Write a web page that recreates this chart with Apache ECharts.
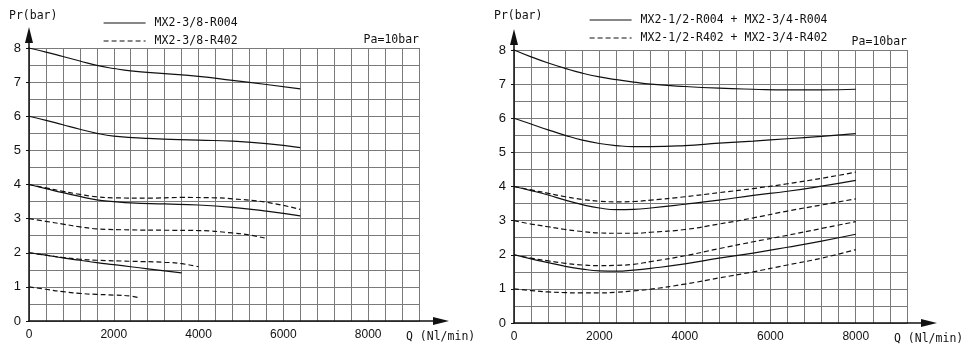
<!DOCTYPE html>
<html><head><meta charset="utf-8">
<script src="https://cdn.jsdelivr.net/npm/echarts@6/dist/echarts.min.js"></script>
<style>html,body{margin:0;padding:0;background:#fff}#c{width:963px;height:358px}</style>
</head><body><div id="c"></div>
<script>
// ---- data ----
const leftNames = ['MX2-3/8-R004', 'MX2-3/8-R402'];
const rightNames = ['MX2-1/2-R004 + MX2-3/4-R004', 'MX2-1/2-R402 + MX2-3/4-R402'];
const xLabelStep = 2000;
const yLabelStep = 1;

// Left chart, solid (R004)
const L_solid8 = [[0,8],[400,7.88],[800,7.75],[1200,7.62],[1600,7.49],[2000,7.4],[2400,7.33],[3200,7.25],[4000,7.17],[4800,7.05],[5600,6.93],[6400,6.8]];
const L_solid6 = [[0,6],[400,5.88],[800,5.75],[1200,5.62],[1600,5.5],[2000,5.42],[2800,5.35],[4000,5.3],[4800,5.27],[5600,5.2],[6400,5.08]];
const L_solid4 = [[0,4],[400,3.88],[800,3.76],[1200,3.65],[1600,3.55],[2000,3.5],[2400,3.46],[3200,3.43],[4000,3.4],[4800,3.33],[5600,3.22],[6400,3.08]];
const L_solid2 = [[0,2],[400,1.93],[800,1.85],[1200,1.78],[1600,1.71],[2000,1.65],[2400,1.59],[2800,1.53],[3200,1.47],[3600,1.41]];
// Left chart, dashed (R402)
const L_dash4 = [[0,4],[400,3.9],[800,3.8],[1200,3.71],[1600,3.64],[2000,3.61],[2800,3.6],[3600,3.62],[4400,3.61],[4800,3.58],[5600,3.48],[6400,3.27]];
const L_dash3 = [[0,3],[400,2.92],[800,2.84],[1200,2.76],[1600,2.7],[2400,2.67],[3200,2.66],[4000,2.65],[4800,2.58],[5200,2.52],[5600,2.42]];
const L_dash2 = [[0,2],[400,1.93],[800,1.86],[1200,1.81],[1600,1.78],[2400,1.75],[3200,1.72],[3600,1.68],[4000,1.59]];
const L_dash1 = [[0,1],[400,0.93],[800,0.86],[1200,0.81],[1600,0.78],[2000,0.76],[2400,0.73],[2600,0.68]];

// Right chart, solid (R004)
const R_solid8 = [[0,8],[400,7.8],[800,7.62],[1200,7.46],[1600,7.32],[2000,7.21],[2400,7.13],[2800,7.06],[3200,7.0],[4000,6.93],[4800,6.88],[5600,6.85],[6400,6.83],[7200,6.83],[8000,6.85]];
const R_solid6 = [[0,6],[400,5.83],[800,5.66],[1200,5.5],[1600,5.36],[2000,5.26],[2400,5.2],[2800,5.17],[3200,5.17],[4000,5.2],[4800,5.27],[5600,5.33],[6400,5.4],[7200,5.47],[8000,5.55]];
const R_solid4 = [[0,4],[400,3.88],[800,3.75],[1200,3.6],[1600,3.47],[2000,3.37],[2400,3.32],[2800,3.33],[3200,3.37],[4000,3.48],[4800,3.6],[5600,3.74],[6400,3.86],[7200,4.01],[8000,4.18]];
const R_solid2 = [[0,2],[400,1.88],[800,1.77],[1200,1.66],[1600,1.58],[2000,1.53],[2400,1.52],[2800,1.55],[3200,1.6],[4000,1.73],[4800,1.9],[5600,2.05],[6400,2.22],[7200,2.4],[8000,2.6]];
// Right chart, dashed (R402)
const R_dash4 = [[0,4],[400,3.9],[800,3.8],[1200,3.7],[1600,3.62],[2000,3.57],[2400,3.55],[2800,3.56],[3200,3.6],[4000,3.7],[4800,3.82],[5600,3.94],[6400,4.08],[7200,4.24],[8000,4.42]];
const R_dash3 = [[0,3],[400,2.9],[800,2.82],[1200,2.74],[1600,2.68],[2000,2.64],[2400,2.63],[2800,2.63],[3200,2.66],[4000,2.74],[4800,2.9],[5600,3.08],[6400,3.28],[7200,3.46],[8000,3.64]];
const R_dash2 = [[0,2],[400,1.9],[800,1.82],[1200,1.75],[1600,1.7],[2000,1.68],[2400,1.69],[2800,1.72],[3200,1.8],[4000,1.97],[4800,2.18],[5600,2.38],[6400,2.57],[7200,2.77],[8000,2.97]];
const R_dash1 = [[0,1],[400,0.95],[800,0.91],[1200,0.89],[1600,0.88],[2000,0.88],[2400,0.9],[2800,0.94],[3200,0.99],[4000,1.14],[4800,1.32],[5600,1.5],[6400,1.7],[7200,1.9],[8000,2.15]];

const leftSolid = [L_solid8, L_solid6, L_solid4, L_solid2];
const leftDash = [L_dash4, L_dash3, L_dash2, L_dash1];
const rightSolid = [R_solid8, R_solid6, R_solid4, R_solid2];
const rightDash = [R_dash4, R_dash3, R_dash2, R_dash1];

// ---- styling ----
const INK = '#111';
const GRIDC = '#7a7a7a';
const MONO = "'DejaVu Sans Mono', monospace";
const SANS = "'Liberation Sans', Arial, sans-serif";

function xAx(gi) {
  return {
    type: 'value', gridIndex: gi, min: 0, max: 9200, interval: 400,
    axisLine: { show: true, onZero: false, lineStyle: { color: INK, width: 1.5 } },
    axisTick: { show: false },
    splitLine: { show: true, lineStyle: { color: GRIDC, width: 1 } },
    axisLabel: { color: INK, fontFamily: SANS, fontSize: 12, margin: 8,
      formatter: v => (v % xLabelStep === 0 && v <= 8000) ? String(v) : '' }
  };
}
function yAx(gi) {
  return {
    type: 'value', gridIndex: gi, min: 0, max: 8, interval: 1,
    axisLine: { show: true, onZero: false, lineStyle: { color: INK, width: 1.5 } },
    axisTick: { show: true, length: 3, lineStyle: { color: INK } },
    minorTick: { show: false, splitNumber: 2 },
    splitLine: { show: true, lineStyle: { color: GRIDC, width: 1 } },
    minorSplitLine: { show: true, lineStyle: { color: GRIDC, width: 1 } },
    axisLabel: { color: INK, fontFamily: SANS, fontSize: 13, margin: 8,
      formatter: v => (v % yLabelStep === 0) ? String(v) : '' }
  };
}
function mkSeries(list, name, gi, dashed) {
  return list.map(d => ({
    type: 'line', name: name, xAxisIndex: gi, yAxisIndex: gi, data: d,
    smooth: true, symbol: 'none', showSymbol: false, silent: true, animation: false,
    lineStyle: { color: INK, width: 1.2, type: dashed ? [5, 3] : 'solid' },
    itemStyle: { color: INK }
  }));
}

const series = [].concat(
  mkSeries(leftSolid, leftNames[0], 0, false),
  mkSeries(leftDash, leftNames[1], 0, true),
  mkSeries(rightSolid, rightNames[0], 1, false),
  mkSeries(rightDash, rightNames[1], 1, true)
);

function legend(left, top, names) {
  return {
    orient: 'vertical', left: left, top: top, itemWidth: 42, itemHeight: 12, itemGap: 6,
    selectedMode: false, data: names,
    itemStyle: { color: 'rgba(0,0,0,0)', borderWidth: 0, opacity: 0 },
    lineStyle: { color: INK, width: 1.2 },
    textStyle: { color: INK, fontFamily: MONO, fontSize: 11.5, padding: [0, 0, 0, 4] }
  };
}

const chart = echarts.init(document.getElementById('c'), null, { renderer: 'canvas' });
chart.setOption({
  backgroundColor: '#fff',
  animation: false,
  grid: [
    { left: 29, top: 48, width: 390, height: 273, containLabel: false },
    { left: 514, top: 50, width: 393, height: 273, containLabel: false }
  ],
  xAxis: [xAx(0), xAx(1)],
  yAxis: [yAx(0), yAx(1)],
  legend: [legend(98, 12, leftNames), legend(584, 9, rightNames)],
  series: series
});

// decorations: arrows and texts placed from the axes' own scales
function deco(gi, pa, pr, q, paDy) {
  const o = chart.convertToPixel({ gridIndex: gi }, [0, 0]);
  const t = chart.convertToPixel({ gridIndex: gi }, [0, 8]);
  const e = chart.convertToPixel({ gridIndex: gi }, [9200, 0]);
  const x0 = o[0], y0 = o[1], yT = t[1], xE = e[0];
  const st = { fill: INK };
  return [
    { type: 'line', shape: { x1: x0, y1: yT, x2: x0, y2: yT - 6 }, style: { stroke: INK, lineWidth: 1.5 } },
    { type: 'polygon', shape: { points: [[x0 - 4, yT - 5], [x0 + 4, yT - 5], [x0, yT - 21]] }, style: st },
    { type: 'line', shape: { x1: xE, y1: y0, x2: xE + 16, y2: y0 }, style: { stroke: INK, lineWidth: 1.5 } },
    { type: 'polygon', shape: { points: [[xE + 14, y0 - 4], [xE + 14, y0 + 4], [xE + 30, y0]] }, style: st },
    { type: 'text', x: xE, y: yT - paDy, style: { text: pa, fill: INK, font: "11.5px " + MONO, align: 'right', verticalAlign: 'middle' } },
    { type: 'text', x: x0 - 20, y: 16, style: { text: pr, fill: INK, font: "11.5px " + MONO, align: 'left', verticalAlign: 'middle' } },
    { type: 'text', x: xE - 13, y: y0 + 16, style: { text: q, fill: INK, font: "11.5px " + MONO, align: 'left', verticalAlign: 'middle' } }
  ];
}
chart.setOption({
  graphic: [].concat(
    deco(0, 'Pa=10bar', 'Pr(bar)', 'Q (Nl/min)', 8),
    deco(1, 'Pa=10bar', 'Pr(bar)', 'Q (Nl/min)', 8)
  )
});
</script>
</body></html>
